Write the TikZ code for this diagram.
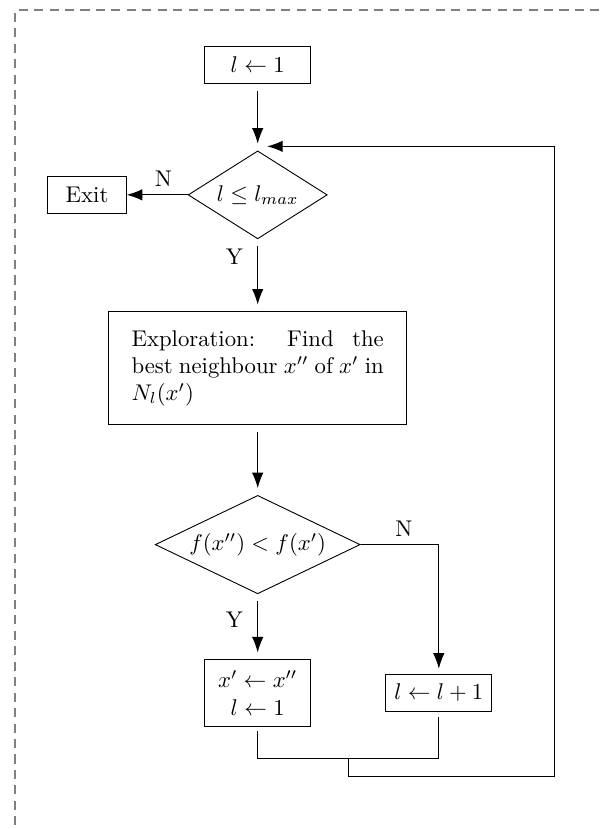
\documentclass[tikz,border=0pt]{standalone}
\usepackage{amssymb}
\usepackage{amsmath}
\usepackage{tikz}
\usetikzlibrary{arrows.meta, positioning, shapes.geometric, calc}

\begin{document}
\begin{tikzpicture}[
    >={Latex[length=6.8pt,width=5pt]},
    box/.style={rectangle,draw,minimum width=46.6pt,minimum height=16.4pt},
    decision/.style={diamond,draw,inner sep=0pt},
    flow/.style={->,shorten <=3pt,shorten >=3pt},
    frame/.style={draw=gray,line width=0.6pt,dash pattern=on 4pt off 2.8pt}]
        \useasboundingbox (0,0) rectangle (265pt,-364.8pt);

        \draw[frame] (6.6pt,-370pt) -- (6.6pt,-4.4pt) -- (270pt,-4.4pt);

        \node[box] (init) at (113.4pt,-28.5pt) {$l \leftarrow 1$};

        \node[decision, aspect=1.58, minimum width=61.2pt, minimum height=38.7pt] (cond_1)
            [below=29.3pt of init]
            {$l \leq l_{max}$};

        \node[box, minimum width=34.6pt] (exit) [left=26.8pt of cond_1] {Exit};

        \node[box, text width=111pt, align=justify, inner xsep=10pt, minimum height=49.7pt] (explore)
            [below=31.7pt of cond_1]
            {Exploration: Find the best neighbour $x''$ of $x'$ in $N_l(x')$};

        \node[decision, aspect=2.08, minimum width=90.2pt, minimum height=43.3pt] (cond_2)
            [below=30.7pt of explore]
            {$f(x'') < f(x')$};

        \node[box, align=center, minimum height=29.3pt] (move) [below=28.6pt of cond_2]
            {$x' \leftarrow x''$\\ $l \leftarrow 1$};

        \node[box, minimum height=16.6pt] (incr) [right=32.7pt of move] {$l \leftarrow l+1$};

        \draw[flow] (init) -- (cond_1);
        \draw[->] (cond_1.west) -- node[above, pos=0.4] (n_1) {N} (exit.east);
        \draw[flow] (cond_1) -- node[left=3pt, pos=0.24] (y_1) {Y} (explore);

        \draw[flow] (explore) -- (cond_2);
        \draw[flow] (cond_2) -- node[left=3pt, pos=0.39] (y_2) {Y} (move);
        \draw[->, shorten >=2.2pt] (cond_2.east) -| node[above, pos=0.276] (n_2) {N} (incr.north);

        % back to the test on l
        \coordinate (join_l) at ([yshift=-13.8pt]move.south);
        \coordinate (join_r) at (incr |- join_l);
        \coordinate (mid) at ($(join_l)!0.5!(join_r)$);
        \coordinate (ret) at ([xshift=4.2pt,yshift=1.8pt]cond_1.north);
        \coordinate (side) at ([xshift=27.3pt]incr.east);

        \draw[shorten <=2pt, shorten >=2pt] (move.south) -- (join_l) -| (incr.south);
        \draw[->] (mid) -- ++(0,-8pt) -| (side |- ret) -- (ret);

    \end{tikzpicture}
\end{document}
